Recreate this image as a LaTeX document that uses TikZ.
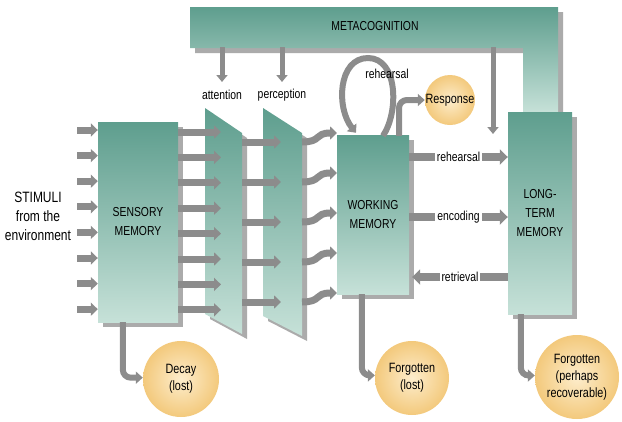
\documentclass[tikz,border=0pt]{standalone}
\usepackage{fontspec}
\setmainfont[FakeStretch=0.8]{Liberation Sans}
\usetikzlibrary{arrows.meta,shadows,calc}
\definecolor{tealtop}{HTML}{5E9E8E}
\definecolor{tealbot}{HTML}{C6E1D8}
\definecolor{garr}{HTML}{8C8C8C}
\definecolor{shad}{HTML}{ABABAB}
\definecolor{orin}{HTML}{FDEDCC}
\definecolor{orout}{HTML}{F3C97C}
\begin{document}
\begin{tikzpicture}[x=1pt,y=-1pt,
  myshadow/.style={drop shadow={shadow xshift=5pt,shadow yshift=-5pt,fill=shad,opacity=1}},
  membox/.style={rectangle,inner sep=0pt,top color=tealtop,bottom color=tealbot,draw=none,
    align=center,font=\fontsize{13}{19}\selectfont,myshadow},
  tealshape/.style={top color=tealtop,bottom color=tealbot,draw=none,myshadow},
  bubble/.style={circle,inner sep=0pt,shading=radial,inner color=orin,outer color=orout,
    align=center,font=\fontsize{13.5}{17}\selectfont},
  lbl/.style={inner sep=1pt,font=\fontsize{13}{15}\selectfont},
  garrow/.style={draw=garr,line width=7pt,-{Triangle[length=7pt,width=13pt]}},
  harrow/.style={draw=garr,line width=8pt,-{Triangle[length=8pt,width=15pt]}},
  darrow/.style={draw=garr,line width=5pt,-{Triangle[length=7pt,width=11pt]}},
  carrow/.style={draw=garr,line width=6pt,rounded corners=8pt,-{Triangle[length=7pt,width=12pt]}}
]
\useasboundingbox (0,0) rectangle (622,421);

% metacognition frame
\path[tealshape] (190,7) -- (558,7) -- (558,112) -- (523,112) -- (523,48) -- (190,48) -- cycle;
\node[font=\fontsize{13}{15}\selectfont] (meta) at (375,26) {METACOGNITION};

% boxes
\node[membox,minimum width=80pt,minimum height=200pt] (sens) at (138,222) {SENSORY\\MEMORY};
\node[membox,minimum width=72pt,minimum height=159pt] (wm) at (373,214.5) {WORKING\\MEMORY};
\node[membox,minimum width=64pt,minimum height=202pt] (ltm) at (540,213) {LONG-\\TERM\\MEMORY};

% filters
\path[tealshape] (205,108) -- (242,133) -- (242,334) -- (205,314) -- cycle;
\path[tealshape] (263,108) -- (302,133) -- (302,336) -- (263,316) -- cycle;
\node[lbl] (att) at (222,95) {attention};
\node[lbl] (perc) at (282,95) {perception};

% stimuli
\node[align=center,font=\fontsize{15}{19}\selectfont] (stim) at (38,216) {STIMULI\\from the\\environment};

% circles
\node[bubble,minimum size=50pt] (resp) at (450,100) {Response};
\node[bubble,minimum size=76pt] (decay) at (181,379) {Decay\\(lost)};
\node[bubble,minimum size=74pt] (forg1) at (412,378) {Forgotten\\(lost)};
\node[bubble,minimum size=84pt] (forg2) at (577,377) {Forgotten\\(perhaps\\recoverable)};

% input arrows
\foreach \i in {0,...,7}{
  \pgfmathsetmacro\yy{130+\i*25.6}
  \coordinate (s\i) at (77,\yy);
  \draw[garrow] (s\i) -- (sens.west |- s\i);
}
% sensory to attention
\foreach \i in {0,...,7}{
  \pgfmathsetmacro\yy{132+\i*25.4}
  \coordinate (a\i) at (221,\yy);
  \draw[garrow] (sens.east |- a\i) -- (a\i);
}
% attention to perception
\foreach \i in {0,...,4}{
  \pgfmathsetmacro\yy{142+\i*40}
  \coordinate (pa\i) at (242,\yy);
  \coordinate (pb\i) at (281,\yy);
  \draw[garrow] (pa\i) -- (pb\i);
}
% perception to working memory (wavy)
\foreach \i in {0,...,4}{
  \pgfmathsetmacro\yy{142+\i*40}
  \pgfmathsetmacro\ye{133+\i*40}
  \coordinate (wa\i) at (302,\yy);
  \coordinate (wb\i) at (337,\ye);
  \draw[garrow] (wa\i) .. controls (322,\yy) and (314,\ye) .. (wb\i);
}

% metacognition down arrows
\coordinate (m1) at (222,47);
\coordinate (m2) at (282,47);
\coordinate (m3) at (493,47);
\coordinate (m1e) at (222,82);
\coordinate (m2e) at (282,82);
\coordinate (m3e) at (493,134);
\draw[darrow] (m1) -- (m1e);
\draw[darrow] (m2) -- (m2e);
\draw[darrow] (m3) -- (m3e);

% rehearsal loop
\coordinate (l0) at ($(wm.north)+(10,1)$);
\coordinate (l1) at ($(wm.north)+(-17,-2)$);
\draw[draw=garr,line width=6pt,-{Triangle[length=7pt,width=12pt]}]
  (l0) .. controls (399,112) and (398,58) .. (368,58) .. controls (338,58) and (336,108) .. (l1);
\node[lbl] (reh0) at (387,74) {rehearsal};

% response
\draw[carrow] ($(wm.north)+(26,1)$) |- (resp.west);

% wm <-> ltm
\draw[harrow] (wm.east |- 0,157) -- (ltm.west |- 0,157)
  node[midway,lbl,fill=white,inner sep=2pt] (reh) {rehearsal};
\draw[harrow] (wm.east |- 0,217) -- (ltm.west |- 0,217)
  node[midway,lbl,fill=white,inner sep=2pt] (enc) {encoding};
\draw[harrow] (ltm.west |- 0,277) -- ([xshift=3pt]wm.east |- 0,277)
  node[midway,lbl,fill=white,inner sep=2pt] (ret) {retrieval};

% forgetting
\draw[carrow] ($(sens.south west)+(25,0)$) |- (decay.178);
\draw[carrow] ($(wm.south west)+(25,0)$) |- (forg1.176);
\draw[carrow] ($(ltm.south west)+(13,0)$) |- (forg2.178);
\end{tikzpicture}
\end{document}
